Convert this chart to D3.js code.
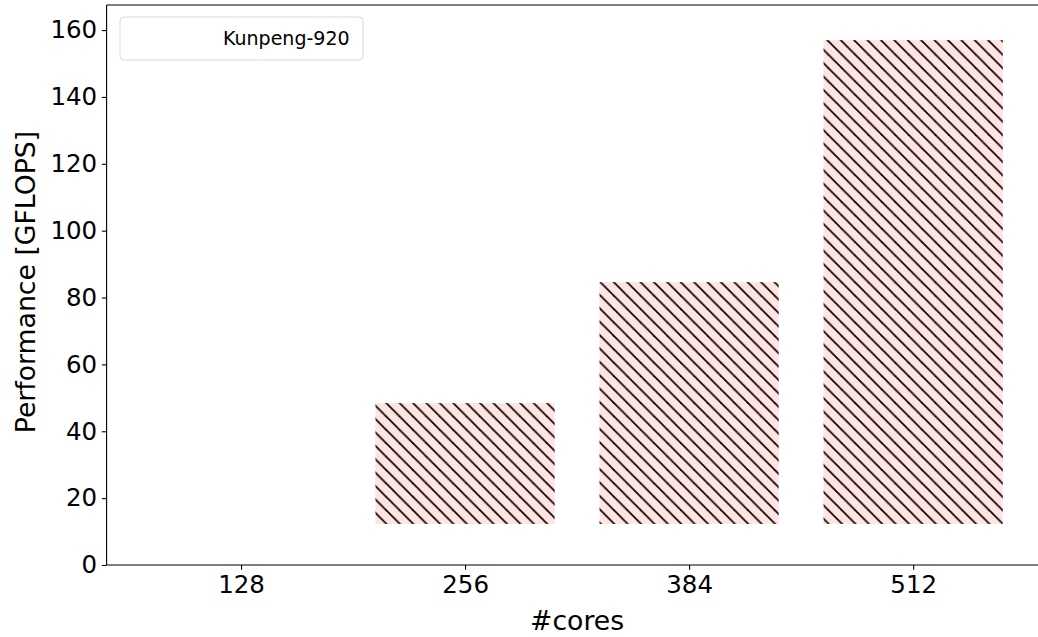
<!DOCTYPE html>
<html>
<head>
<meta charset="utf-8">
<script src="https://cdn.jsdelivr.net/npm/d3@7"></script>
<style>
  html, body { margin: 0; padding: 0; background: #fff; }
  svg { display: block; font-family: "DejaVu Sans", sans-serif; }
</style>
</head>
<body>
<svg id="chart" width="1038" height="637"></svg>
<script>
// ---- data ----
const categories = ["128", "256", "384", "512"];
const barBase = [12.3, 12.3, 12.3, 12.3];        // bottom of each bar (GFLOPS)
const performance = [null, 48.4, 84.6, 157.0];    // top of each bar (GFLOPS)
const yTicks = [0, 20, 40, 60, 80, 100, 120, 140, 160];
const seriesName = "Kunpeng-920";
const xLabel = "#cores";
const yLabel = "Performance [GFLOPS]";

// ---- layout ----
const W = 1038, H = 637;
const svg = d3.select("#chart");

const x = d3.scaleLinear().domain([-0.6, categories.length - 0.4]).range([106.6, 1047.6]);
const y = d3.scaleLinear().domain([0, 167.5]).range([565, 5]);
const barW = 0.8;

// hatch pattern
const s = 13.4;
const defs = svg.append("defs");
const pat = defs.append("pattern")
  .attr("id", "hatch")
  .attr("patternUnits", "userSpaceOnUse")
  .attr("x", 10).attr("y", 0)
  .attr("width", s).attr("height", s);
pat.append("rect").attr("width", s).attr("height", s).attr("fill", "#ffe4e1");
const hl = [[-1, -1, s + 1, s + 1], [-1, s - 1, 1, s + 1], [s - 1, -1, s + 1, 1]];
pat.selectAll("line").data(hl).join("line")
  .attr("x1", d => d[0]).attr("y1", d => d[1])
  .attr("x2", d => d[2]).attr("y2", d => d[3])
  .attr("stroke", "#000").attr("stroke-width", 1.7);

// bars
const bars = categories.map((c, i) => ({ c, i, base: barBase[i], v: performance[i] }))
  .filter(d => d.v != null);
svg.append("g").selectAll("rect").data(bars).join("rect")
  .attr("x", d => x(d.i - barW / 2))
  .attr("width", d => x(d.i + barW / 2) - x(d.i - barW / 2))
  .attr("y", d => y(d.v))
  .attr("height", d => y(d.base) - y(d.v))
  .attr("fill", "url(#hatch)");

// axes
const fontTick = 24.5;
const yAxis = svg.append("g").attr("transform", `translate(${x.range()[0]},0)`)
  .call(d3.axisLeft(y).tickValues(yTicks).tickSize(4.7).tickPadding(4.7).tickFormat(d3.format("d")));
const xAxis = svg.append("g").attr("transform", `translate(0,${y(0)})`)
  .call(d3.axisBottom(x).tickValues(categories.map((c, i) => i)).tickSize(4.7).tickPadding(4.7)
    .tickFormat(i => categories[i]));
[yAxis, xAxis].forEach(g => {
  g.select(".domain").remove();
  g.selectAll(".tick line").attr("stroke", "#000").attr("stroke-width", 1.1);
  g.selectAll(".tick text").attr("fill", "#000").style("font-size", fontTick + "px")
    .style("font-family", "DejaVu Sans");
});
xAxis.selectAll(".tick text").attr("dy", "0.76em");

// spines
const sp = svg.append("g").attr("stroke", "#000").attr("stroke-width", 1.1);
sp.append("line").attr("x1", x.range()[0]).attr("x2", x.range()[0]).attr("y1", y.range()[0]).attr("y2", y.range()[1]);
sp.append("line").attr("x1", x.range()[0]).attr("x2", x.range()[1]).attr("y1", y.range()[0]).attr("y2", y.range()[0]);
sp.append("line").attr("x1", x.range()[0]).attr("x2", x.range()[1]).attr("y1", y.range()[1]).attr("y2", y.range()[1]);

// axis labels
svg.append("text").attr("x", x(1.5)).attr("y", 630).attr("text-anchor", "middle")
  .style("font-size", "26.7px").attr("fill", "#000").text(xLabel);
svg.append("text").attr("transform", `translate(35,${(y.range()[0] + y.range()[1]) / 2 - 3}) rotate(-90)`)
  .attr("text-anchor", "middle").style("font-size", "26.7px").attr("fill", "#000").text(yLabel);

// legend
const lg = svg.append("g");
lg.append("rect").attr("x", 120).attr("y", 17).attr("width", 243).attr("height", 43).attr("rx", 4)
  .attr("fill", "#fff").attr("fill-opacity", 0.8).attr("stroke", "#d9d9d9").attr("stroke-width", 1);
lg.append("rect").attr("x", 130).attr("y", 31).attr("width", 37).attr("height", 13).attr("fill", "#fff");
lg.append("text").attr("x", 223).attr("y", 45).style("font-size", "19px").attr("fill", "#000").text(seriesName);
</script>
</body>
</html>
